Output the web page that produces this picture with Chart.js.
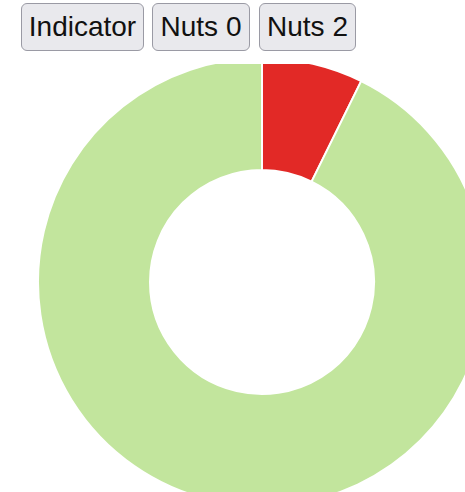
<!DOCTYPE html>
<html lang="en">
<head>
  <meta charset="UTF-8" />
  <title>Indicator</title>
  <script src="https://cdn.jsdelivr.net/npm/chart.js"></script>
  <style>
    html, body {
      margin: 0;
      padding: 0;
      background: #fff;
      width: 465px;
      height: 492px;
      overflow: hidden;
    }
    .toolbar {
      position: absolute;
      left: 21px;
      top: 3px;
      display: flex;
    }
    .toolbar button {
      box-sizing: border-box;
      height: 48px;
      font-family: "Liberation Sans", Arial, sans-serif;
      font-size: 28px;
      line-height: 32px;
      padding: 7px 0;
      color: #111;
      background: #e9e9ed;
      border: 1px solid #9a9aa4;
      border-radius: 6px;
    }
    #btnInd { width: 123px; }
    #btnN0 { width: 98px; margin-left: 8px; }
    #btnN2 { width: 97px; margin-left: 9px; }
    .chart-box {
      position: absolute;
      left: 0;
      top: 64px;
      width: 465px;
      height: 428px;
      overflow: hidden;
    }
    .chart-box canvas {
      position: absolute;
      left: 36.5px;
      top: -7px;
    }
  </style>
</head>
<body>

  <div class="toolbar">
    <button id="btnInd">Indicator</button>
    <button id="btnN0">Nuts 0</button>
    <button id="btnN2">Nuts 2</button>
  </div>

  <div class="chart-box">
    <canvas id="pie" width="450" height="450"></canvas>
  </div>

  <script>
    const labels = ['Share', 'Rest'];
    const values = [7.3, 92.7];
    const colours = ['#e22926', '#c2e59d'];

    new Chart(document.getElementById('pie'), {
      type: 'doughnut',
      data: {
        labels: labels,
        datasets: [{
          data: values,
          backgroundColor: colours,
          borderColor: '#ffffff',
          borderWidth: 2
        }]
      },
      options: {
        responsive: false,
        animation: false,
        plugins: {
          legend: { display: false },
          tooltip: { enabled: false }
        }
      }
    });
  </script>

</body>
</html>
